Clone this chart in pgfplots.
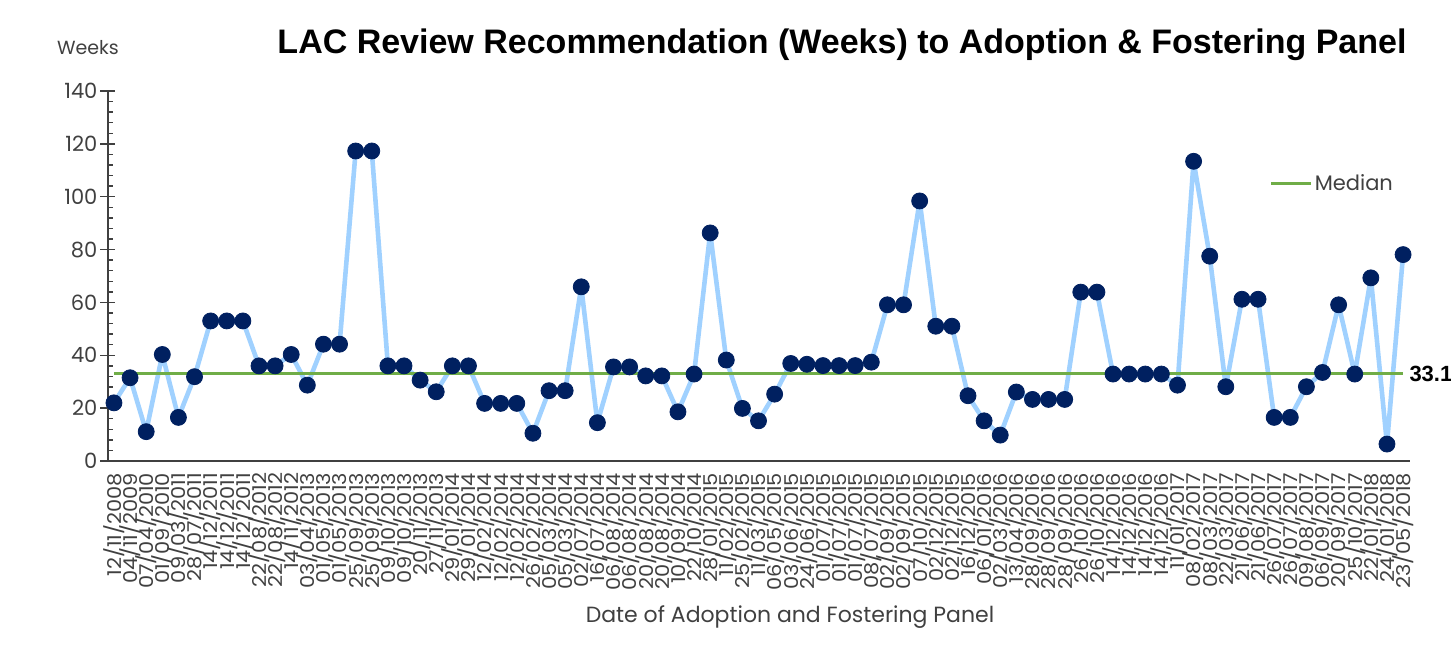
\documentclass[border=0pt]{standalone}
\usepackage{fontspec}
\setmainfont{Poppins}
\newfontfamily\titlefont{Liberation Sans}
\usepackage{pgfplots}
\usepackage{pgfplotstable}
\pgfplotsset{compat=1.18}

\definecolor{lineblue}{RGB}{160,209,255}
\definecolor{dotnavy}{RGB}{0,32,96}
\definecolor{mediangreen}{RGB}{112,173,71}
\definecolor{textgray}{RGB}{64,64,64}

% weeks from LAC review recommendation to panel, one row per case
\pgfplotstableread{
x y date
0 22.0 12/11/2008
1 31.5 04/11/2009
2 11.1 07/04/2010
3 40.3 01/09/2010
4 16.5 09/03/2011
5 31.9 28/07/2011
6 53.0 14/12/2011
7 53.0 14/12/2011
8 53.0 14/12/2011
9 36.0 22/08/2012
10 36.0 22/08/2012
11 40.3 14/11/2012
12 28.7 03/04/2013
13 44.2 01/05/2013
14 44.2 01/05/2013
15 117.3 25/09/2013
16 117.3 25/09/2013
17 36.0 09/10/2013
18 36.0 09/10/2013
19 30.6 20/11/2013
20 26.2 27/11/2013
21 36.0 29/01/2014
22 36.0 29/01/2014
23 21.8 12/02/2014
24 21.8 12/02/2014
25 21.8 12/02/2014
26 10.5 26/02/2014
27 26.6 05/03/2014
28 26.6 05/03/2014
29 65.9 02/07/2014
30 14.5 16/07/2014
31 35.6 06/08/2014
32 35.6 06/08/2014
33 32.2 20/08/2014
34 32.2 20/08/2014
35 18.6 10/09/2014
36 32.9 22/10/2014
37 86.3 28/01/2015
38 38.2 11/02/2015
39 19.9 25/02/2015
40 15.2 11/03/2015
41 25.3 06/05/2015
42 36.9 03/06/2015
43 36.6 24/06/2015
44 36.1 01/07/2015
45 36.1 01/07/2015
46 36.1 01/07/2015
47 37.4 08/07/2015
48 59.1 02/09/2015
49 59.1 02/09/2015
50 98.4 07/10/2015
51 51.0 02/12/2015
52 51.0 02/12/2015
53 24.7 16/12/2015
54 15.2 06/01/2016
55 9.8 02/03/2016
56 26.1 13/04/2016
57 23.3 28/09/2016
58 23.3 28/09/2016
59 23.3 28/09/2016
60 63.9 26/10/2016
61 63.9 26/10/2016
62 32.9 14/12/2016
63 32.9 14/12/2016
64 32.9 14/12/2016
65 32.9 14/12/2016
66 28.7 11/01/2017
67 113.4 08/02/2017
68 77.5 08/03/2017
69 28.1 22/03/2017
70 61.2 21/06/2017
71 61.2 21/06/2017
72 16.5 26/07/2017
73 16.5 26/07/2017
74 28.1 09/08/2017
75 33.5 06/09/2017
76 59.1 20/09/2017
77 32.9 25/10/2017
78 69.3 22/01/2018
79 6.4 24/01/2018
80 78.1 23/05/2018
}\lacdata

\begin{document}
\begin{tikzpicture}
\useasboundingbox (0,0) rectangle (725.5pt,324.5pt);

\node[font=\titlefont\bfseries\fontsize{17}{20}\selectfont, text=black] at (421pt,302pt)
  {LAC Review Recommendation (Weeks) to Adoption \& Fostering Panel};
\node[font=\fontsize{9.5}{11}\selectfont, text=textgray] at (44pt,300.5pt) {Weeks};
\node[font=\fontsize{11}{13}\selectfont, text=textgray] at (395pt,16pt)
  {Date of Adoption and Fostering Panel};

\begin{axis}[
    at={(54pt,94pt)}, anchor=south west,
    scale only axis, width=651pt, height=185pt,
    xmin=-0.37, xmax=80.43, ymin=0, ymax=140,
    axis x line*=bottom, axis y line*=left,
    axis line style={-, black!75, line width=0.8pt},
    tick align=center,
    major tick length=7.5pt, minor tick length=2.5pt,
    tick style={black!75, line width=0.7pt},
    ytick={0,20,...,140}, minor y tick num=4,
    minor y tick style={xshift=1.25pt},
    xtick=data, xticklabels from table={\lacdata}{date},
    major x tick style={draw=none},
    extra x ticks={-0.37,0.63,...,80.63},
    extra x tick labels={},
    extra x tick style={major tick length=3pt, yshift=-1.5pt},
    /pgf/number format/assume math mode=true,
    yticklabel style={font=\fontsize{10.5}{12}\selectfont, text=textgray, xshift=2pt},
    xticklabel style={font=\fontsize{9.5}{9.5}\selectfont, text=textgray,
        yshift=-2pt, rotate=90, xscale=1.1, anchor=east, inner sep=0pt},
    xtick pos=bottom, ytick pos=left,
    clip=false,
    legend style={draw=none, fill=none, at={(0.892,0.749)}, anchor=west,
        font=\fontsize{10.5}{12}\selectfont, text=textgray, inner sep=0pt,
        nodes={inner sep=1pt}},
    legend image code/.code={\draw[#1] (0pt,0pt) -- (20pt,0pt);},
]
\addplot[lineblue, line width=2.3pt, line join=round, forget plot] table[x=x, y=y] {\lacdata};
\addplot[mediangreen, line width=1.5pt] coordinates {(0,33.1) (80,33.1)};
\addlegendentry{Median}
\addplot[only marks, mark=*, mark size=4pt, dotnavy, forget plot] table[x=x, y=y] {\lacdata};
\node[anchor=west, font=\titlefont\bfseries\fontsize{11}{13}\selectfont, inner sep=1pt]
  at (axis cs:80.25,33.1) {33.1};
\end{axis}
\end{tikzpicture}
\end{document}
